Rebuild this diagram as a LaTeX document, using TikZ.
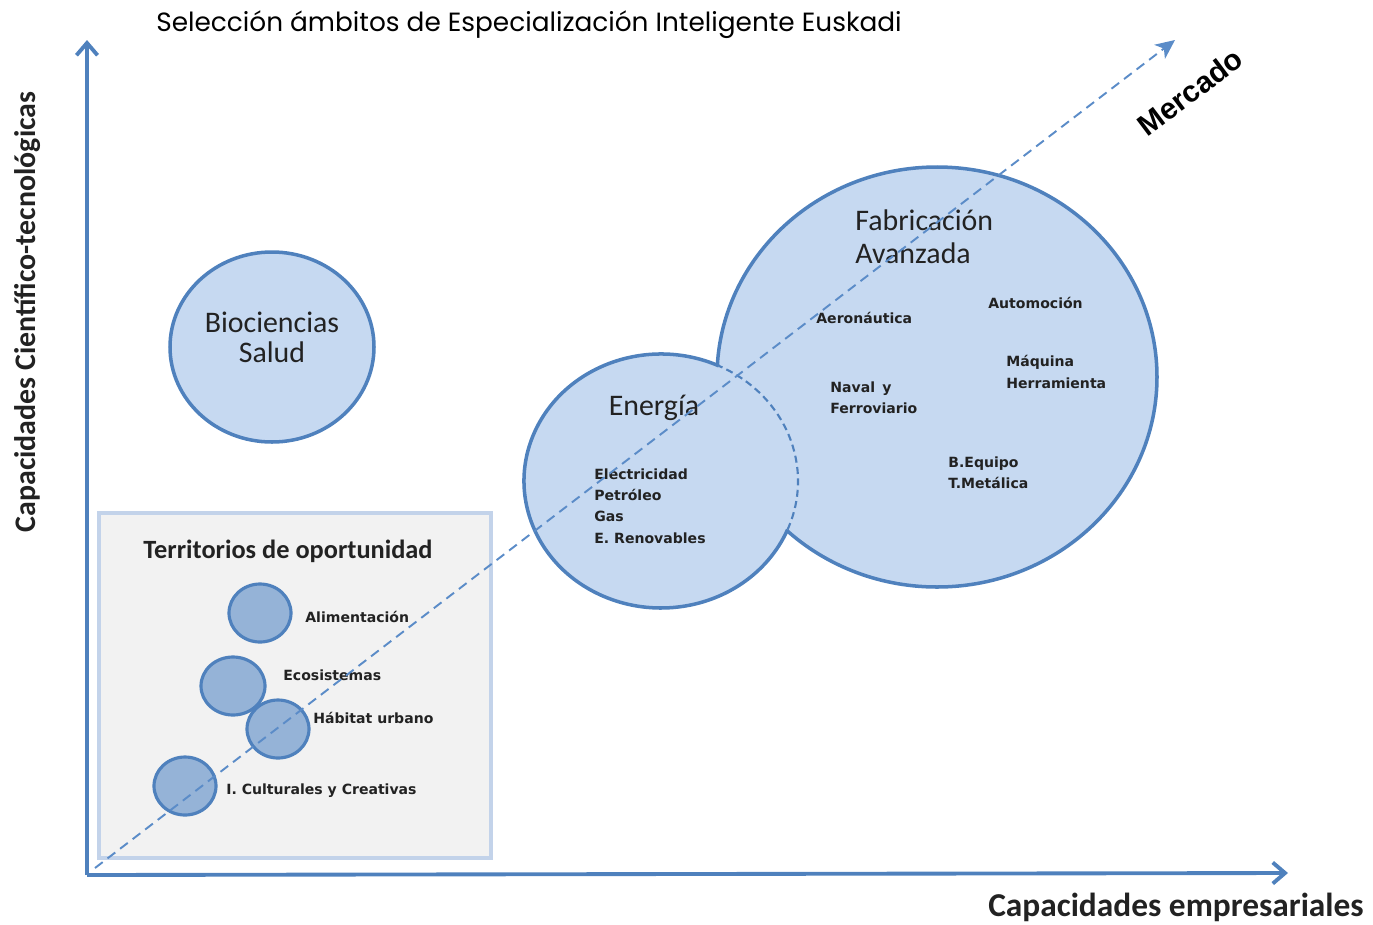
\documentclass[tikz,border=0pt]{standalone}
\usepackage{fontspec}
\setmainfont{Carlito}
\newfontfamily\tagfont{DejaVu Sans}
\newfontfamily\titlefont{Poppins}
\newfontfamily\markfont{Liberation Sans}
\usetikzlibrary{arrows.meta,positioning,calc}
\definecolor{axisblue}{HTML}{4F81BD}
\definecolor{dashblue}{HTML}{5B8CC8}
\definecolor{bigfill}{HTML}{C6D9F1}
\definecolor{smallfill}{HTML}{95B3D7}
\definecolor{boxfill}{HTML}{F2F2F2}
\definecolor{boxline}{HTML}{C3D3EA}
\definecolor{textdark}{HTML}{222222}

\begin{document}
\begin{tikzpicture}[
  x=0.02cm, y=-0.02cm,
  axis/.style={draw=axisblue, line width=2.2pt, -{Straight Barb[length=7pt,width=12pt]}},
  bigarea/.style={fill=bigfill, draw=axisblue, line width=2pt},
  smallarea/.style={fill=smallfill, draw=axisblue, line width=1.8pt},
  bigtag/.style={text=textdark, font=\fontsize{17}{19}\selectfont, align=left, inner sep=0pt},
  tag/.style={text=textdark, font=\tagfont\bfseries\fontsize{8}{12}\selectfont, align=left, inner sep=0pt, anchor=west},
]
  \useasboundingbox (0,0) rectangle (1373,924);

  % coordinates of the axes
  \coordinate (origin) at (87,875);
  \coordinate (ytop)   at (87,40);
  \coordinate (xend)   at (1288,873);
  \coordinate (mstart) at (95,868);
  \coordinate (mend)   at (1175,40);

  % territorios box
  \draw[fill=boxfill, draw=boxline, line width=2pt] (99,513) rectangle (491,858);

  % big areas
  \draw[bigarea] (272,347) ellipse [x radius=102, y radius=95];
  \draw[bigarea] (937,377) ellipse [x radius=220, y radius=210];
  \fill[bigfill] (661,481) ellipse [x radius=137, y radius=127];
  \draw[axisblue, line width=2pt] (661,481) ++(-65:137 and 127)
    arc[start angle=-65, end angle=-337.5, x radius=137, y radius=127];
  \draw[axisblue, line width=1.2pt, dash pattern=on 4pt off 2.5pt] (661,481) ++(22.5:137 and 127)
    arc[start angle=22.5, end angle=-65, x radius=137, y radius=127];

  % small areas
  \draw[smallarea] (260,613) ellipse [x radius=31, y radius=29];
  \draw[smallarea] (233,686) ellipse [x radius=32, y radius=29];
  \draw[smallarea] (278,729) ellipse [x radius=31, y radius=29];
  \draw[smallarea] (185,786) ellipse [x radius=31, y radius=29];

  % texts
  \node[text=black, font=\titlefont\fontsize{15}{17}\selectfont, inner sep=0pt] (title) at (529,25)
    {Selección ámbitos de Especialización Inteligente Euskadi};
  \node[bigtag, align=center, font=\fontsize{17}{17}\selectfont] (bio) at (272,337) {Biociencias\\Salud};
  \node[bigtag, anchor=west] (fab) at (855,237) {Fabricación\\Avanzada};
  \node[bigtag] (ener) at (654,408) {Energía};
  \node[tag] (aero) at (816,318) {Aeronáutica};
  \node[tag] (auto) at (988,303) {Automoción};
  \node[tag] (maq)  at (1006,372) {Máquina\\Herramienta};
  \node[tag] (naval) at (830,398) {Naval\, y\\Ferroviario};
  \node[tag] (equipo) at (948,473) {B.Equipo\\T.Metálica};
  \node[tag, font=\tagfont\bfseries\fontsize{8}{12.2}\selectfont] (fuentes) at (594,506)
    {Electricidad\\Petróleo\\Gas\\E. Renovables};
  \node[text=textdark, font=\bfseries\fontsize{15}{17}\selectfont, inner sep=0pt] (terr) at (288,551)
    {Territorios de oportunidad};
  \node[tag] (alim) at (305,617) {Alimentación};
  \node[tag] (eco)  at (283,675) {Ecosistemas};
  \node[tag] (hab)  at (313,718) {Hábitat urbano};
  \node[tag] (cult) at (226,791) {I. Culturales y Creativas};

  % axes
  \draw[axis] (origin) -- (ytop);
  \draw[axis] (origin) -- (xend);
  \draw[dashblue, line width=1.1pt, dash pattern=on 5.5pt off 3.5pt,
    -{Stealth[length=11pt,width=10pt,inset=3pt]}] (mstart) -- (mend);

  \node[text=textdark, font=\bfseries\fontsize{19}{21}\selectfont, inner sep=0pt] (xlab) at (1176,907)
    {Capacidades empresariales};
  \node[text=textdark, font=\bfseries\fontsize{17}{19}\selectfont, inner sep=0pt, rotate=90] (ylab) at (28,312)
    {Capacidades Científico-tecnológicas};
  \node[text=black, font=\markfont\bfseries\fontsize{17}{19}\selectfont, inner sep=0pt, rotate=37] (merc) at (1190,92)
    {Mercado};
\end{tikzpicture}
\end{document}
